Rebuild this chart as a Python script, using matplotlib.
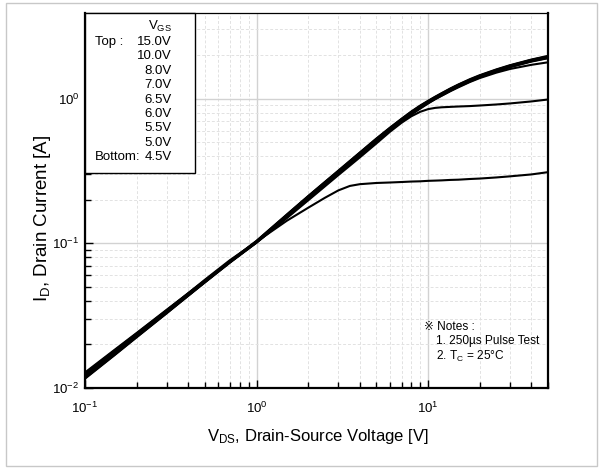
import matplotlib
matplotlib.use("Agg")
import matplotlib.pyplot as plt
from matplotlib import font_manager
from matplotlib.patches import Rectangle
from matplotlib.ticker import LogLocator, NullFormatter, FuncFormatter
import numpy as np

# Drain-source voltage sample points [V]
vds = [0.1, 0.15, 0.2, 0.3, 0.5, 0.7, 1.0, 1.5, 2.0, 2.5, 3.0, 3.5, 4.0, 5.0, 6.0,
       7.0, 8.0, 9.0, 10.0, 11.0, 12.0, 13.5, 15.0, 17.5, 20.0, 25.0, 30.0, 40.0, 50.0]

# Drain current [A] for each gate-source voltage
id_15v0 = [0.0128, 0.0185, 0.0240, 0.0348, 0.0554, 0.0753, 0.104, 0.158, 0.212, 0.265,
           0.318, 0.371, 0.424, 0.530, 0.630, 0.725, 0.815, 0.895, 0.965, 1.03, 1.09,
           1.175, 1.25, 1.36, 1.45, 1.59, 1.70, 1.86, 1.97]
id_10v0 = [0.0126, 0.0183, 0.0238, 0.0345, 0.0551, 0.0750, 0.1035, 0.157, 0.211, 0.264,
           0.316, 0.369, 0.422, 0.527, 0.627, 0.721, 0.811, 0.890, 0.960, 1.025, 1.085,
           1.17, 1.245, 1.35, 1.44, 1.58, 1.69, 1.85, 1.96]
id_8v0 = [0.0124, 0.0181, 0.0236, 0.0342, 0.0548, 0.0747, 0.103, 0.156, 0.210, 0.262,
          0.314, 0.366, 0.418, 0.522, 0.621, 0.715, 0.804, 0.883, 0.952, 1.015, 1.075,
          1.16, 1.235, 1.34, 1.43, 1.57, 1.68, 1.84, 1.95]
id_7v0 = [0.0122, 0.0178, 0.0233, 0.0339, 0.0545, 0.0744, 0.1025, 0.155, 0.208, 0.260,
          0.311, 0.363, 0.414, 0.517, 0.615, 0.709, 0.797, 0.876, 0.945, 1.008, 1.067,
          1.15, 1.225, 1.33, 1.42, 1.56, 1.67, 1.82, 1.93]
id_6v5 = [0.0121, 0.0176, 0.0231, 0.0336, 0.0542, 0.0741, 0.102, 0.154, 0.206, 0.257,
          0.308, 0.359, 0.410, 0.512, 0.610, 0.703, 0.790, 0.868, 0.937, 1.000, 1.058,
          1.14, 1.215, 1.32, 1.41, 1.55, 1.655, 1.81, 1.91]
id_6v0 = [0.0119, 0.0174, 0.0228, 0.0333, 0.0539, 0.0738, 0.1015, 0.153, 0.204, 0.255,
          0.305, 0.356, 0.406, 0.507, 0.604, 0.697, 0.783, 0.861, 0.930, 0.992, 1.050,
          1.13, 1.205, 1.31, 1.40, 1.535, 1.645, 1.80, 1.90]
id_5v5 = [0.0117, 0.0171, 0.0225, 0.0330, 0.0536, 0.0735, 0.101, 0.151, 0.201, 0.251,
          0.301, 0.351, 0.400, 0.505, 0.600, 0.690, 0.775, 0.852, 0.925, 0.990, 1.045,
          1.125, 1.195, 1.30, 1.385, 1.51, 1.60, 1.71, 1.78]
id_5v0 = [0.0116, 0.0170, 0.0224, 0.0329, 0.0540, 0.0745, 0.1010, 0.149, 0.198, 0.247,
          0.296, 0.344, 0.392, 0.490, 0.590, 0.680, 0.755, 0.810, 0.845, 0.862, 0.870,
          0.876, 0.881, 0.887, 0.895, 0.910, 0.925, 0.955, 0.985]
id_4v5 = [0.0121, 0.0177, 0.0233, 0.0343, 0.0560, 0.0765, 0.1025, 0.143, 0.176, 0.206,
          0.232, 0.249, 0.256, 0.261, 0.263, 0.265, 0.267, 0.268, 0.270, 0.271, 0.272,
          0.274, 0.275, 0.278, 0.280, 0.285, 0.290, 0.299, 0.310]

curves = [id_15v0, id_10v0, id_8v0, id_7v0, id_6v5, id_6v0, id_5v5, id_5v0, id_4v5]
vgs_labels = ["15.0V", "10.0V", "8.0V", "7.0V", "6.5V", "6.0V", "5.5V", "5.0V", "4.5V"]


def has_font(name):
    try:
        font_manager.findfont(font_manager.FontProperties(family=name),
                              fallback_to_default=False)
        return True
    except Exception:
        return False


REG = "Liberation Sans" if has_font("Liberation Sans") else "DejaVu Sans"
NARROW = "Liberation Sans Narrow" if has_font("Liberation Sans Narrow") else REG

plt.rcParams["font.family"] = [REG, "DejaVu Sans"]
plt.rcParams["mathtext.fontset"] = "custom"
plt.rcParams["mathtext.rm"] = REG
plt.rcParams["mathtext.sf"] = NARROW
plt.rcParams["mathtext.it"] = REG
plt.rcParams["axes.unicode_minus"] = False

W, H = 603, 468
fig = plt.figure(figsize=(W / 100, H / 100), dpi=100)


def fx(x):
    return x / W


def fy(y):
    return 1 - y / H


# outer frame
fig.add_artist(Rectangle((fx(5.5), fy(466)), fx(597) - fx(5.5), fy(2.5) - fy(466),
                         transform=fig.transFigure, fill=False,
                         ec="#c8c8c8", lw=1.0))

L, R, T, B = 85, 548, 13, 388
ax = fig.add_axes([fx(L), fy(B), (R - L) / W, (B - T) / H])
ax.set_xscale("log")
ax.set_yscale("log")
ax.set_xlim(0.1, 50)
ax.set_ylim(0.01, 3.9)


def decade_label(v, pos):
    e = int(round(np.log10(v)))
    return r"$\mathrm{10^{%d}}$" % e


ax.xaxis.set_major_locator(LogLocator(base=10))
ax.yaxis.set_major_locator(LogLocator(base=10))
ax.xaxis.set_minor_locator(LogLocator(base=10, subs=range(2, 10)))
ax.yaxis.set_minor_locator(LogLocator(base=10, subs=range(2, 10)))
ax.xaxis.set_major_formatter(FuncFormatter(decade_label))
ax.yaxis.set_major_formatter(FuncFormatter(decade_label))
ax.xaxis.set_minor_formatter(NullFormatter())
ax.yaxis.set_minor_formatter(NullFormatter())

ax.set_axisbelow(True)
ax.grid(which="major", color="#d2d2d2", lw=1.0, ls="-")
ax.grid(which="minor", color="#e2e2e2", lw=0.7, ls=(0, (3, 2)))

ax.tick_params(which="both", direction="in", top=False, right=False,
               colors="black", width=1.0)
ax.tick_params(which="major", length=6, labelsize=9.5)
ax.tick_params(which="minor", length=4)
ax.tick_params(axis="x", which="major", pad=9)
ax.tick_params(axis="y", which="major", pad=4)

for side in ("left", "bottom", "right"):
    ax.spines[side].set_linewidth(1.6)
ax.spines["top"].set_linewidth(0.9)

for ids in curves:
    ax.plot(vds, ids, color="black", lw=1.5, zorder=3, solid_capstyle="butt")

# legend box in the upper-left corner
bx = (195 - L) / (R - L)
by = (B - 173) / (B - T)
ax.add_patch(Rectangle((0, by), bx, 1 - by, transform=ax.transAxes,
                       fc="white", ec="black", lw=1.0, zorder=2.6, clip_on=False))

fig.text(fx(160), fy(26), r"$\mathrm{V_{GS}}$", fontsize=9.5, ha="center",
         va="center", zorder=5)
row0, step = 42, 14.4
for i, lab in enumerate(vgs_labels):
    fig.text(fx(172), fy(row0 + i * step), lab, fontsize=9.5, ha="right",
             va="center", zorder=5)
fig.text(fx(95), fy(row0), "Top :", fontsize=9.5, ha="left", va="center", zorder=5)
fig.text(fx(95), fy(row0 + 8 * step), "Bottom:", fontsize=9.5, ha="left",
         va="center", zorder=5)

# test notes
nfam = [NARROW, "DejaVu Sans", "Noto Sans CJK JP"]
fig.text(fx(424), fy(327), "\u203b Notes :", fontsize=8.6, family=nfam,
         ha="left", va="center")
fig.text(fx(436), fy(341), "1. 250\u00b5s Pulse Test", fontsize=8.6, family=nfam,
         ha="left", va="center")
fig.text(fx(436), fy(356), "2. $\\mathsf{T_C}$ = 25\u00b0C",
         fontsize=8.6, family=nfam, ha="left", va="center")

# axis titles
fig.text(fx(318), fy(437), r"$\mathsf{V_{DS}}$, Drain-Source Voltage [V]",
         fontsize=12, family=[NARROW, "DejaVu Sans"], ha="center", va="center")
fig.text(fx(43), fy(218), r"$\mathrm{I_D}$, Drain Current [A]", fontsize=13.5,
         rotation=90, ha="center", va="center")

fig.savefig("out.png", dpi=100)
